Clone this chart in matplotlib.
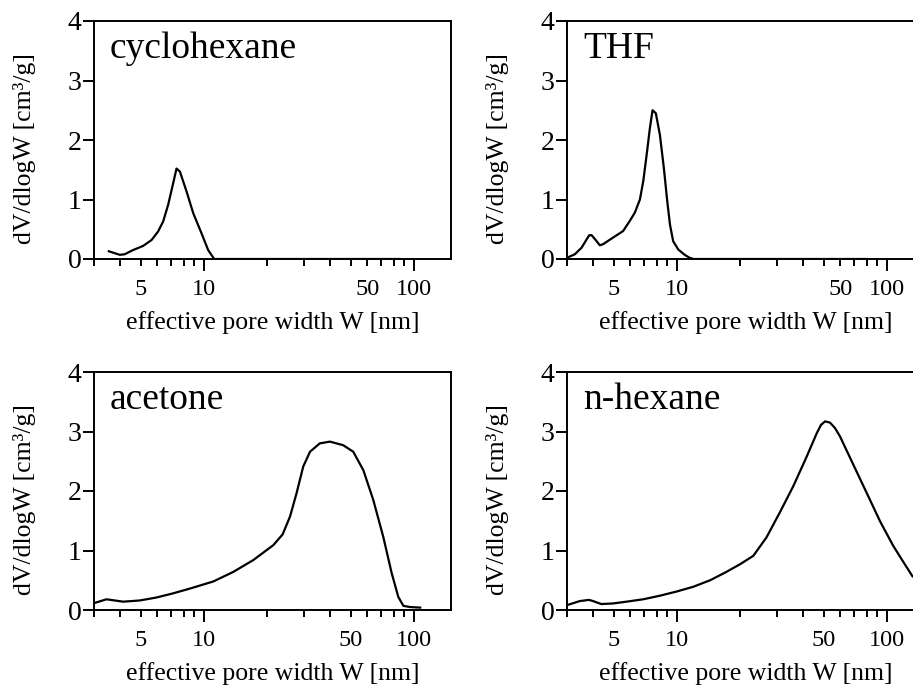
import matplotlib
matplotlib.use("Agg")
import matplotlib.pyplot as plt

plt.rcParams['font.family'] = ['Liberation Serif', 'DejaVu Serif']

# ---- data (pore width W [nm], dV/dlogW [cm3/g]) ----
cyclo_w = [3.53, 3.98, 4.2, 4.6, 5.14, 5.64, 6.05, 6.4, 6.76, 7.14, 7.41, 7.69,
           8.28, 8.9, 9.75, 10.48, 11.2, 20, 40, 85]
cyclo_v = [0.13, 0.07, 0.08, 0.15, 0.22, 0.32, 0.46, 0.63, 0.91, 1.27, 1.52, 1.47,
           1.13, 0.77, 0.43, 0.15, 0.0, 0.0, 0.0, 0.0]

thf_w = [3.0, 3.27, 3.52, 3.72, 3.83, 3.93, 4.15, 4.3, 4.46, 4.97, 5.55, 5.97, 6.31,
         6.67, 6.92, 7.18, 7.44, 7.66, 7.94, 8.3, 8.67, 9.0, 9.27, 9.6, 10.15, 10.9,
         11.5, 12.0, 20, 40, 80]
thf_v = [0.02, 0.08, 0.19, 0.33, 0.40, 0.40, 0.30, 0.23, 0.25, 0.36, 0.47, 0.64, 0.78,
         1.0, 1.31, 1.75, 2.2, 2.5, 2.45, 2.09, 1.53, 0.97, 0.58, 0.30, 0.16, 0.07,
         0.02, 0.0, 0.0, 0.0, 0.0]

acet_w = [3.03, 3.44, 4.13, 4.95, 5.95, 7.14, 8.58, 11.1, 13.8, 17.2, 21.4, 23.7, 25.7,
          27.6, 29.7, 32.0, 35.6, 39.8, 46.0, 51.4, 57.4, 64.0, 71.4, 78.3, 84.2, 89.0,
          95.7, 107]
acet_v = [0.12, 0.18, 0.14, 0.16, 0.21, 0.28, 0.36, 0.48, 0.64, 0.84, 1.09, 1.27, 1.57,
          1.96, 2.41, 2.66, 2.80, 2.83, 2.77, 2.66, 2.35, 1.85, 1.23, 0.62, 0.22, 0.07,
          0.05, 0.04]

hex_w = [2.99, 3.45, 3.82, 3.99, 4.37, 4.97, 5.76, 6.91, 8.3, 9.96, 11.96, 14.4, 17.2,
         20.0, 23.1, 26.7, 30.9, 35.8, 41.5, 46.3, 48.5, 50.7, 53.5, 56.5, 59.7, 69.2,
         80.0, 92.7, 107, 120, 132, 140]
hex_v = [0.08, 0.15, 0.17, 0.15, 0.10, 0.11, 0.14, 0.18, 0.24, 0.31, 0.39, 0.50, 0.64,
         0.77, 0.91, 1.22, 1.64, 2.08, 2.58, 2.97, 3.11, 3.17, 3.15, 3.06, 2.92, 2.44,
         1.97, 1.49, 1.08, 0.80, 0.57, 0.50]

names = ["cyclohexane", "THF", "acetone", "n-hexane"]
series = [(cyclo_w, cyclo_v), (thf_w, thf_v), (acet_w, acet_v), (hex_w, hex_v)]

y_ticks = [0, 1, 2, 3, 4]
x_major = [10, 100]
x_major_labels = ["10", "100"]
x_minor = [3, 4, 5, 6, 7, 8, 9, 20, 30, 40, 50, 60, 70, 80, 90]
xlabel = "effective pore width W [nm]"
ylabel = "dV/dlogW [cm³/g]"

W, H = 913, 686
fig = plt.figure(figsize=(W / 100, H / 100), dpi=100)

ax_w = 357 / W
ax_h = 238 / H
lefts = [94 / W, 567 / W, 94 / W, 567 / W]
bottoms = [1 - 259 / H, 1 - 259 / H, 1 - 610 / H, 1 - 610 / H]
ylabel_y = [0.466, 0.466, 0.462, 0.462]

maj_len = 8.6
min_len = 4.7
maj_pad = 5.5

for i, (name, (xw, yv)) in enumerate(zip(names, series)):
    ax = fig.add_axes([lefts[i], bottoms[i], ax_w, ax_h])
    ax.plot(xw, yv, color='black', lw=1.6)
    ax.set_xscale('log')
    ax.set_xlim(3, 150)
    ax.set_ylim(0, 4)
    ax.set_xticks(x_major, labels=x_major_labels)
    top_row = i < 2
    minor_labels = []
    for m in x_minor:
        if m == 5:
            minor_labels.append("5")
        elif (m == 60 and top_row) or (m == 50 and not top_row):
            minor_labels.append("50")
        else:
            minor_labels.append("")
    ax.set_xticks(x_minor, labels=minor_labels, minor=True)
    ax.set_yticks(y_ticks)
    ax.tick_params(axis='x', which='major', direction='out', length=maj_len, width=1.4,
                   labelsize=17.5, pad=maj_pad)
    ax.tick_params(axis='x', which='minor', direction='out', length=min_len, width=1.4,
                   labelsize=17.5, pad=maj_pad + (maj_len - min_len))
    ax.tick_params(axis='y', which='major', direction='out', length=8, width=1.4,
                   labelsize=20, pad=1)
    ax.tick_params(axis='y', which='minor', length=0)
    for s in ax.spines.values():
        s.set_linewidth(1.4)
    ax.set_xlabel(xlabel, fontsize=18.5, labelpad=8)
    ax.set_ylabel(ylabel, fontsize=18.5)
    ax.yaxis.set_label_coords(-0.162, ylabel_y[i])
    ax.text(0.045, 0.845, name, transform=ax.transAxes, fontsize=27,
            ha='left', va='baseline')

fig.savefig("out.png", dpi=100)
